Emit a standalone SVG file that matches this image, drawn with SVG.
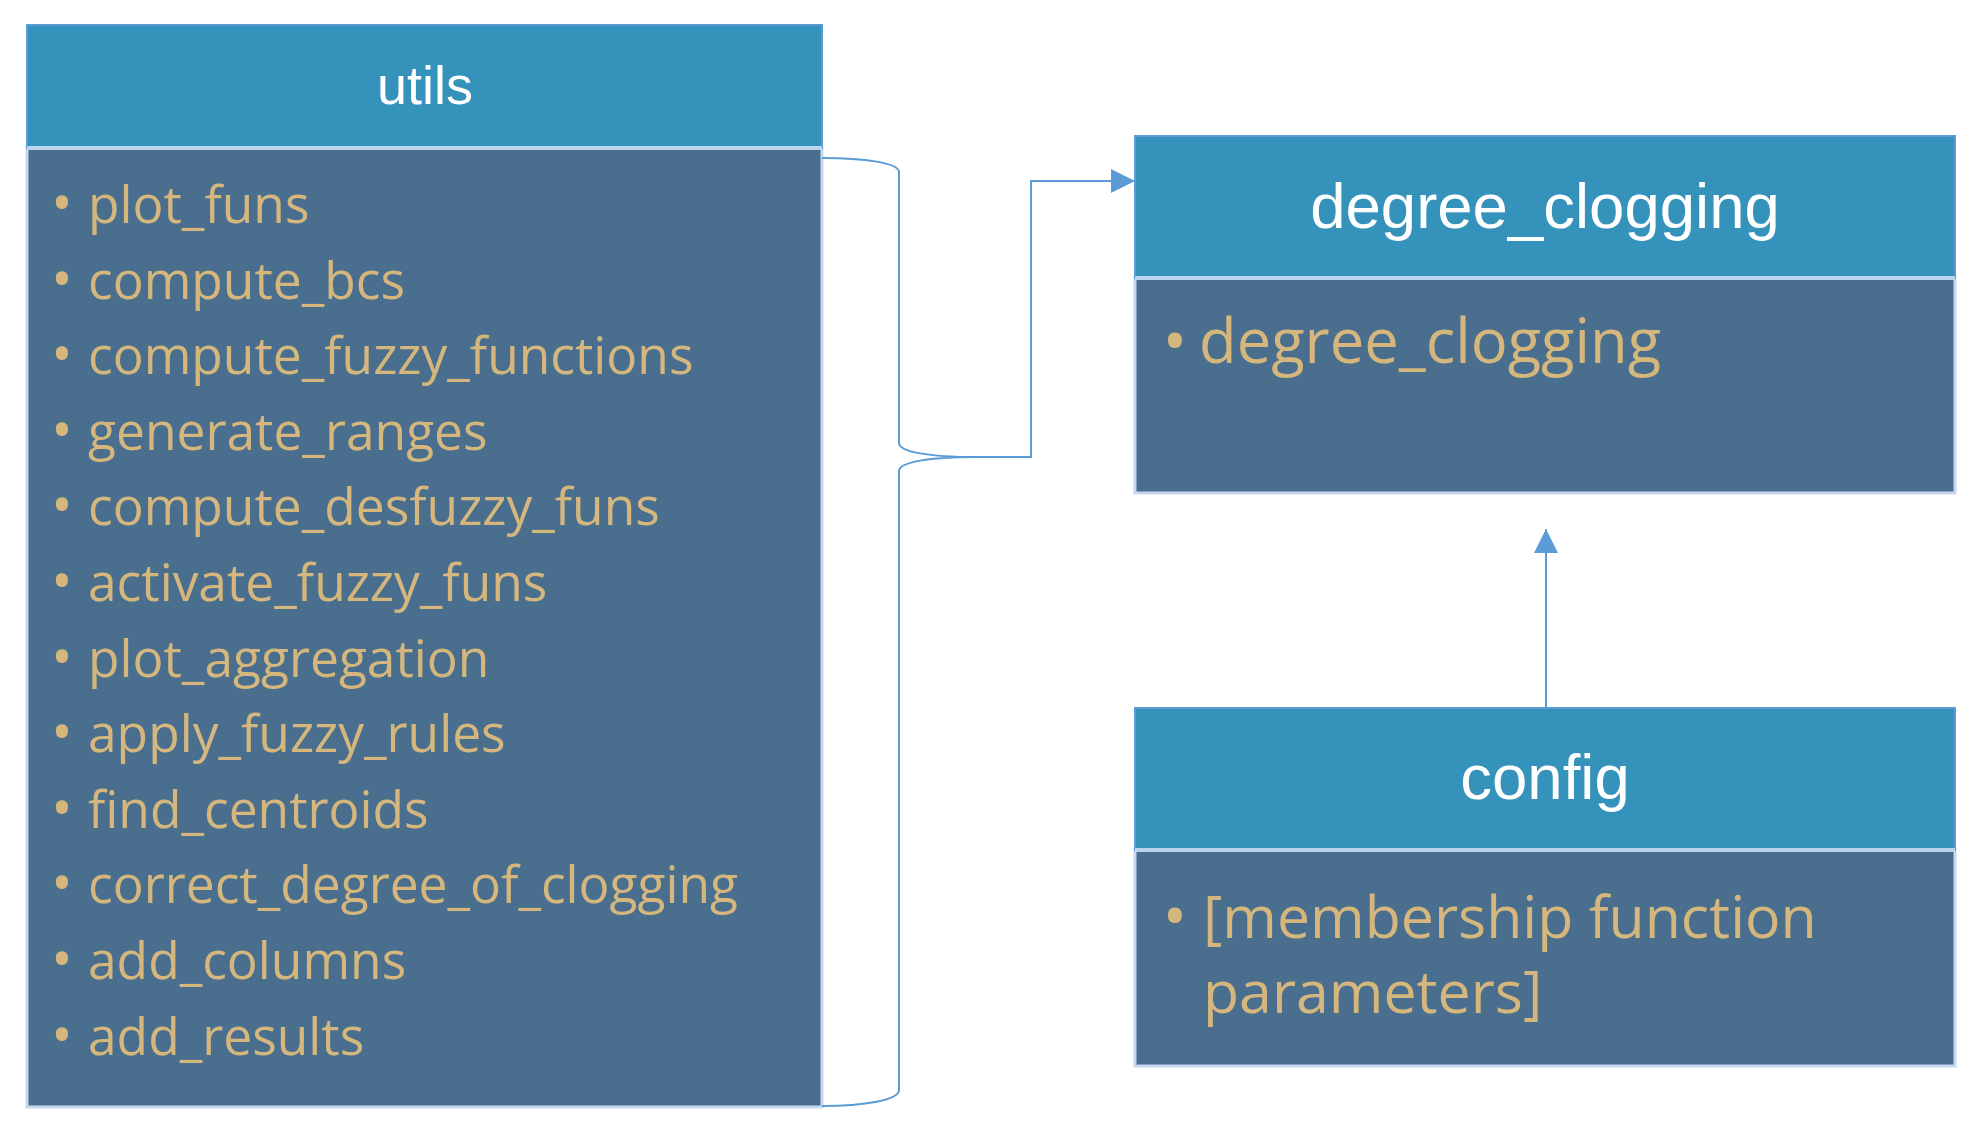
<svg xmlns="http://www.w3.org/2000/svg" width="1983" height="1132" viewBox="0 0 1983 1132">
<style>
.hdr{fill:#3592BB;stroke:#5A9BD5;stroke-width:2}
.body{fill:#4A6F8E;stroke:#C6D7EE;stroke-width:3}
.sep{stroke:#BCD3EE;stroke-width:4}
.ht{font-family:"Liberation Sans",Arial,sans-serif;fill:#FFFFFF;text-anchor:middle}
.it{font-family:"Open Sans","Noto Sans",sans-serif;fill:#D5B77E}
.bl{font-family:"Open Sans","Noto Sans",sans-serif;fill:#D5B77E;text-anchor:middle}
.conn{fill:none;stroke:#5B9BD5;stroke-width:2}
</style>
<defs>
<marker id="arr" markerUnits="userSpaceOnUse" markerWidth="24" markerHeight="24" refX="24" refY="12" orient="auto">
<path d="M0,0 L24,12 L0,24 z" fill="#5B9BD5"/>
</marker>
</defs>
<rect width="1983" height="1132" fill="#FFFFFF"/>

<g id="utils">
<rect class="body" x="27" y="148" width="795" height="959"/>
<rect class="hdr" x="27" y="25" width="795" height="123"/>
<line class="sep" x1="27" y1="148" x2="822" y2="148"/>
<text class="ht" x="425" y="104" font-size="54">utils</text>
<g font-size="51.5">
<text class="bl" x="62" y="224" font-size="58">•</text><text class="it" x="88" y="223">plot_funs</text>
<text class="bl" x="62" y="299.6" font-size="58">•</text><text class="it" x="88" y="298.6">compute_bcs</text>
<text class="bl" x="62" y="375.2" font-size="58">•</text><text class="it" x="88" y="374.2">compute_fuzzy_functions</text>
<text class="bl" x="62" y="450.8" font-size="58">•</text><text class="it" x="88" y="449.8">generate_ranges</text>
<text class="bl" x="62" y="526.4" font-size="58">•</text><text class="it" x="88" y="525.4">compute_desfuzzy_funs</text>
<text class="bl" x="62" y="602" font-size="58">•</text><text class="it" x="88" y="601">activate_fuzzy_funs</text>
<text class="bl" x="62" y="677.6" font-size="58">•</text><text class="it" x="88" y="676.6">plot_aggregation</text>
<text class="bl" x="62" y="753.2" font-size="58">•</text><text class="it" x="88" y="752.2">apply_fuzzy_rules</text>
<text class="bl" x="62" y="828.8" font-size="58">•</text><text class="it" x="88" y="827.8">find_centroids</text>
<text class="bl" x="62" y="904.4" font-size="58">•</text><text class="it" x="88" y="903.4">correct_degree_of_clogging</text>
<text class="bl" x="62" y="980" font-size="58">•</text><text class="it" x="88" y="979">add_columns</text>
<text class="bl" x="62" y="1055.6" font-size="58">•</text><text class="it" x="88" y="1054.6">add_results</text>
</g>
</g>

<g id="degree_clogging">
<rect class="body" x="1135" y="278" width="820" height="215"/>
<rect class="hdr" x="1135" y="136" width="820" height="142"/>
<line class="sep" x1="1135" y1="278" x2="1955" y2="278"/>
<text class="ht" x="1545" y="228" font-size="63.5">degree_clogging</text>
<text class="bl" x="1175" y="364" font-size="66">•</text>
<text class="it" x="1199" y="363" font-size="61.5">degree_clogging</text>
</g>

<g id="config">
<rect class="body" x="1135" y="850" width="820" height="216"/>
<rect class="hdr" x="1135" y="708" width="820" height="142"/>
<line class="sep" x1="1135" y1="850" x2="1955" y2="850"/>
<text class="ht" x="1545" y="799" font-size="63.5">config</text>
<text class="bl" x="1175" y="939" font-size="66">•</text>
<text class="it" x="1203" y="938" font-size="59">[membership function</text>
<text class="it" x="1203" y="1013" font-size="59">parameters]</text>
</g>

<g id="connectors">
<path class="conn" d="M822,158 C865,158 899,163 899,172 L899,443 C899,452 930,457 975,457 C930,457 899,462 899,471 L899,1090 C899,1100 865,1106 822,1106"/>
<path class="conn" d="M975,457 H1031 V181 H1135" marker-end="url(#arr)"/>
<path class="conn" d="M1546,707 V529" marker-end="url(#arr)"/>
</g>
</svg>
